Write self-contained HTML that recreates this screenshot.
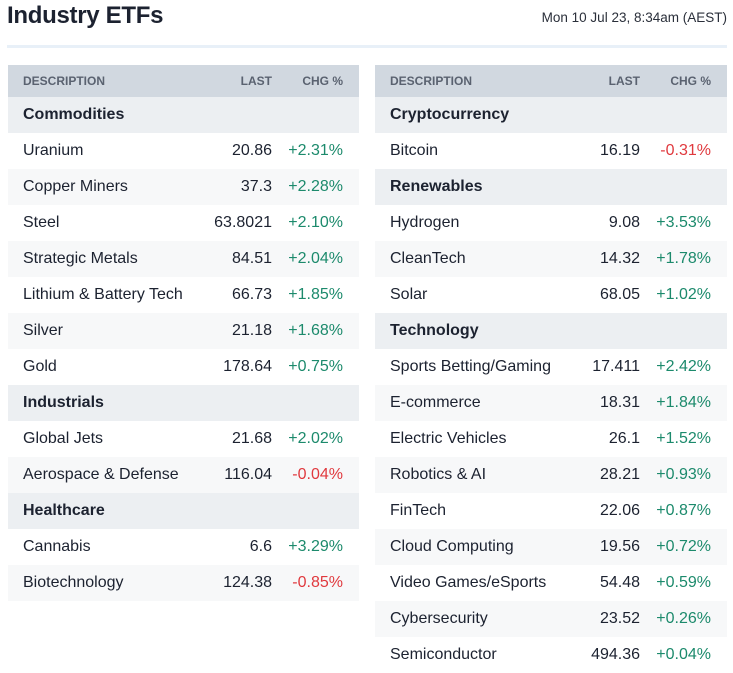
<!DOCTYPE html>
<html><head><meta charset="utf-8"><style>
body{margin:0;width:733px;height:668px;background:#fff;font-family:"Liberation Sans",Arial,sans-serif;color:#1c2230;position:relative;overflow:hidden}
#title{position:absolute;left:7px;top:2px;font-size:24px;font-weight:bold;letter-spacing:-0.3px}
#date{position:absolute;right:6px;top:10px;font-size:13.5px;color:#2a2f3a}
#rule{position:absolute;left:7px;top:45px;width:720px;height:3px;background:#e8f0f8}
table{position:absolute;top:65px;border-collapse:collapse;font-size:16px;width:352px}
td,th{height:36px;padding:0;white-space:nowrap}
th{height:32px;background:#d1d8e0;font-size:12px;color:#5a6270;font-weight:bold;text-align:right}
th.d{text-align:left;padding-left:15px}
td.d{padding-left:15px}
td.l{text-align:right;width:80px}
td.c{text-align:right;width:71px;padding-right:16px}
tr.cat td{background:#eceff2;font-weight:bold}
tr.g td{background:#f7f8f9}
.up{color:#1c8a6c}.dn{color:#e0393e}
</style></head><body>
<div id="title">Industry ETFs</div>
<div id="date">Mon 10 Jul 23, 8:34am (AEST)</div>
<div id="rule"></div>
<table style="left:8px;width:351px" id="t1"></table>
<table style="left:375px" id="t2"></table>
<script>
const left=[["Commodities"],["Uranium","20.86","+2.31%"],["Copper Miners","37.3","+2.28%"],["Steel","63.8021","+2.10%"],["Strategic Metals","84.51","+2.04%"],["Lithium & Battery Tech","66.73","+1.85%"],["Silver","21.18","+1.68%"],["Gold","178.64","+0.75%"],["Industrials"],["Global Jets","21.68","+2.02%"],["Aerospace & Defense","116.04","-0.04%"],["Healthcare"],["Cannabis","6.6","+3.29%"],["Biotechnology","124.38","-0.85%"]];
const right=[["Cryptocurrency"],["Bitcoin","16.19","-0.31%"],["Renewables"],["Hydrogen","9.08","+3.53%"],["CleanTech","14.32","+1.78%"],["Solar","68.05","+1.02%"],["Technology"],["Sports Betting/Gaming","17.411","+2.42%"],["E-commerce","18.31","+1.84%"],["Electric Vehicles","26.1","+1.52%"],["Robotics & AI","28.21","+0.93%"],["FinTech","22.06","+0.87%"],["Cloud Computing","19.56","+0.72%"],["Video Games/eSports","54.48","+0.59%"],["Cybersecurity","23.52","+0.26%"],["Semiconductor","494.36","+0.04%"]];
function build(id,rows){
 const t=document.getElementById(id);
 let h='<tr><th class="d">DESCRIPTION</th><th style="width:80px">LAST</th><th style="width:71px;padding-right:16px">CHG %</th></tr>';
 let k=0;
 rows.forEach(r=>{
  if(r.length==1){k=0;h+='<tr class="cat"><td class="d" colspan="3">'+r[0].replace('&','&amp;')+'</td></tr>';}
  else{const cls=r[2][0]=='-'?'dn':'up';h+='<tr class="'+(k%2?'g':'')+'"><td class="d">'+r[0].replace('&','&amp;')+'</td><td class="l">'+r[1]+'</td><td class="c '+cls+'">'+r[2]+'</td></tr>';k++;}
 });
 t.innerHTML=h;
}
build('t1',left);build('t2',right);
</script>
</body></html>
